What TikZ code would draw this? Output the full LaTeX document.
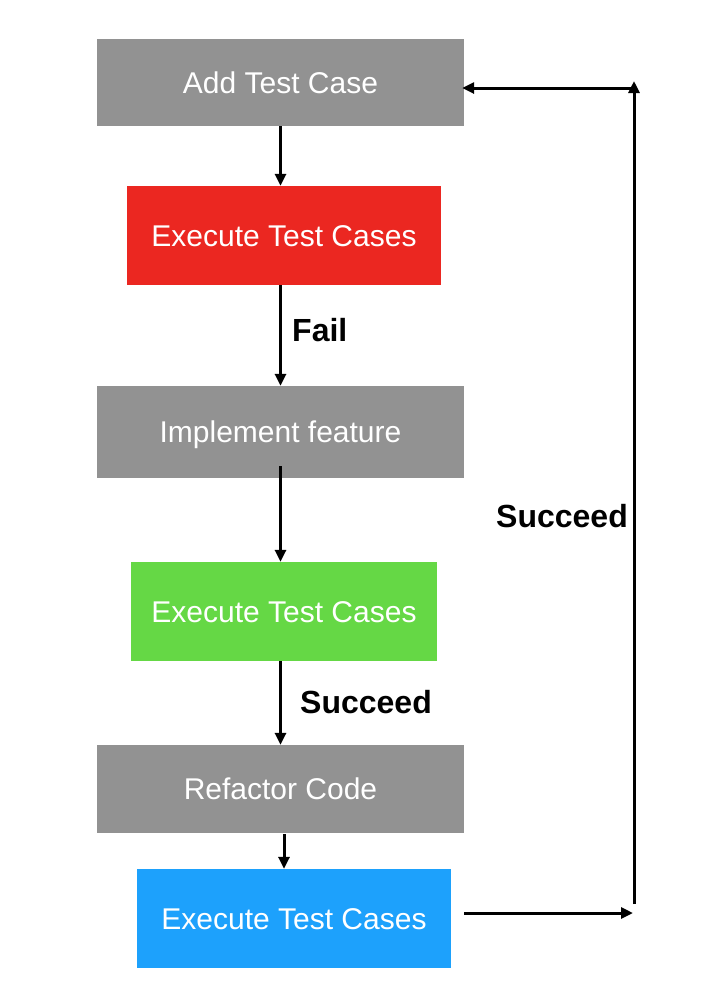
\documentclass[tikz,border=0pt]{standalone}
\usepackage{fontspec}
\setmainfont{Liberation Sans}
\usetikzlibrary{arrows.meta}
\definecolor{boxgray}{RGB}{146,146,146}
\definecolor{boxred}{RGB}{235,39,33}
\definecolor{boxgreen}{RGB}{101,216,69}
\definecolor{boxblue}{RGB}{29,161,252}
\begin{document}
\begin{tikzpicture}[x=1pt,y=-1pt,
  box/.style={rectangle, inner sep=0pt, text=white,
    font=\fontsize{30}{35}\selectfont, text height=21.5pt, text depth=0pt},
  lbl/.style={inner sep=0pt, anchor=west, text=black,
    font=\fontsize{32}{37}\selectfont\bfseries, text height=22.9pt, text depth=0pt},
  arr/.style={line width=3pt, -{Triangle[length=12pt,width=11pt]}}]
\useasboundingbox (0,0) rectangle (720,994);
\fill[white] (0,0) rectangle (720,994);

\node[box, fill=boxgray, minimum width=367pt, minimum height=87pt] (add) at (280.5,82.5) {Add Test Case};
\node[box, fill=boxred, minimum width=314pt, minimum height=99pt] (red) at (284,235.5) {Execute Test Cases};
\node[box, fill=boxgray, minimum width=367pt, minimum height=92pt] (impl) at (280.5,432) {Implement feature};
\node[box, fill=boxgreen, minimum width=306pt, minimum height=99pt] (green) at (284,611.5) {Execute Test Cases};
\node[box, fill=boxgray, minimum width=367pt, minimum height=88pt] (refac) at (280.5,789) {Refactor Code};
\node[box, fill=boxblue, minimum width=314pt, minimum height=99pt] (blue) at (294,918.5) {Execute Test Cases};

\node[lbl] (fail) at (292,330) {Fail};
\node[lbl] (succa) at (300,702) {Succeed};
\node[lbl] (succb) at (496,516) {Succeed};

\coordinate (r1) at (633,913);
\coordinate (r2) at (634,904);
\coordinate (r3) at (634,81);
\coordinate (r4) at (634,88);

\draw[arr] (add.south) -- (add.south |- red.north);
\draw[arr] (impl.north |- red.south) -- (impl.north);
\draw[arr] ([yshift=12pt]impl.south) -- (impl.south |- green.north);
\draw[arr] (refac.north |- green.south) -- (refac.north);
\draw[arr] ([shift={(3.5pt,-1pt)}]refac.south) -- ([xshift=3.5pt]refac.south |- blue.north);
\draw[arr] ([shift={(13pt,5.5pt)}]blue.east) -- (r1);
\draw[arr] (r2) -- (r3);
\draw[arr] (r4) -- ([xshift=-2pt]add.east |- r4);
\end{tikzpicture}
\end{document}
